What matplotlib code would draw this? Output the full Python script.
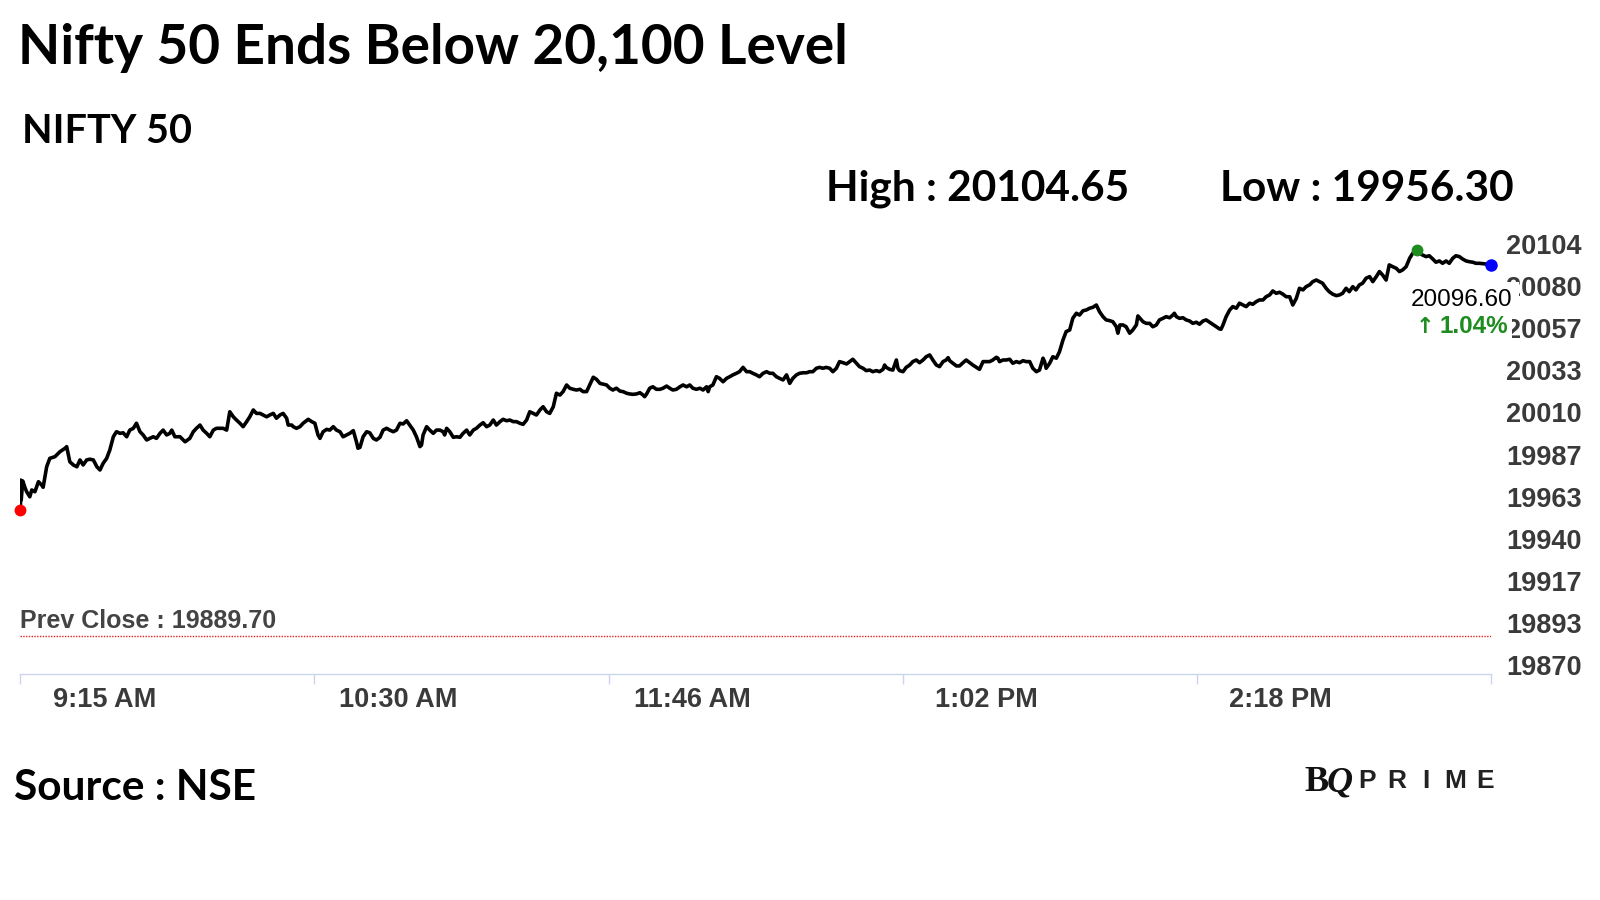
import matplotlib.pyplot as plt
import numpy as np
from matplotlib.transforms import ScaledTranslation

# Intraday Nifty 50 values (minutes after 9:15 AM)
minutes1 = [0.0, 0.1, 0.2, 0.6, 1.2, 1.6, 2.4, 2.9, 3.7, 4.6,
            5.4, 5.8, 6.7, 7.5, 8.8, 10.1, 11.4, 11.8, 12.6, 13.5,
            14.4, 15.2, 16.0, 16.9, 17.7, 18.6, 19.5, 20.3, 21.1, 22.0,
            22.8, 23.7, 24.5, 25.4, 26.2, 27.1, 27.9, 28.8, 29.6, 30.5,
            31.3, 32.2, 33.0, 33.9, 34.7, 35.6, 36.4, 37.3, 38.1, 38.6,
            39.4, 40.7, 42.0, 43.2, 44.1, 44.9, 45.8, 46.6, 47.5, 48.3,
            49.2, 50.0, 50.9, 51.7, 52.6, 53.4, 54.3, 55.1, 56.0, 56.8,
            57.7, 58.5, 59.4, 60.2, 61.1, 61.9, 62.8, 63.6, 64.5, 65.3,
            66.2, 67.0, 67.9, 68.3, 69.2]
values1 = [19960.0, 19976.7, 19965.6, 19976.2, 19972.3, 19970.2, 19967.4, 19971.2, 19970.2, 19975.8,
           19974.0, 19972.7, 19984.1, 19988.8, 19989.7, 19992.5, 19994.4, 19995.3, 19986.9, 19985.1,
           19984.1, 19987.9, 19985.1, 19987.9, 19988.3, 19987.9, 19984.1, 19982.3, 19986.0, 19988.8,
           19993.4, 20000.8, 20003.6, 20002.7, 20003.0, 20000.8, 20004.5, 20005.5, 20008.3, 20003.6,
           20001.8, 19999.0, 19999.9, 20000.8, 19999.9, 20002.7, 20004.5, 20001.8, 20002.7, 20004.5,
           20000.8, 20000.8, 19998.0, 19999.9, 20003.6, 20005.5, 20007.3, 20004.5, 20002.7, 20000.8,
           20004.5, 20005.5, 20005.5, 20005.5, 20004.5, 20014.7, 20011.9, 20010.1, 20008.3, 20006.4,
           20009.2, 20011.9, 20015.7, 20013.8, 20013.8, 20012.9, 20011.9, 20012.9, 20013.8, 20011.1,
           20012.9, 20013.8, 20011.1, 20007.3, 20007.3]

minutes2 = [69.6, 70.4, 71.3, 72.1, 73.4, 74.3, 75.1, 75.9, 76.4, 77.2,
            78.1, 78.9, 79.8, 80.6, 81.5, 82.3, 83.2, 84.0, 84.9, 85.7,
            86.1, 86.6, 87.4, 88.3, 89.1, 90.0, 90.8, 91.7, 92.5, 93.4,
            94.2, 95.1, 95.9, 96.8, 97.6, 98.5, 99.3, 100.2, 101.0, 101.9,
            102.3, 102.7, 103.6, 104.4, 105.3, 106.1, 107.0, 107.8, 108.2, 108.7,
            109.5, 110.4, 111.2, 112.1, 112.9, 113.8, 114.6, 115.5, 116.3, 117.2,
            118.0, 118.9, 119.7, 120.6, 121.4, 122.3, 123.1, 124.0, 124.8, 125.7,
            126.5, 127.4, 128.2, 129.1, 129.9, 130.8, 131.6, 132.5, 133.3, 134.2,
            135.0, 135.9, 136.7, 137.6, 138.4, 139.3, 140.1, 141.0, 141.8]
values2 = [20006.4, 20005.5, 20006.4, 20008.3, 20010.5, 20009.2, 20008.3, 20001.8, 19999.9, 20003.6,
           20004.9, 20004.5, 20006.4, 20004.5, 20003.6, 20000.8, 20001.8, 20002.7, 20004.2, 19998.0,
           19994.4, 19994.9, 20000.8, 20003.6, 20003.0, 19999.9, 19999.0, 20000.5, 20004.5, 20005.5,
           20004.5, 20003.6, 20004.5, 20008.3, 20007.9, 20009.7, 20007.3, 20004.5, 20000.8, 19995.3,
           19996.2, 20001.8, 20006.4, 20004.5, 20002.7, 20004.5, 20004.5, 20003.6, 20001.8, 20005.5,
           20003.6, 20000.5, 20000.8, 20000.5, 20002.7, 20004.5, 20001.8, 20004.5, 20005.5, 20007.3,
           20008.6, 20006.4, 20007.3, 20010.1, 20007.3, 20009.2, 20010.5, 20009.7, 20010.1, 20009.2,
           20009.2, 20008.3, 20007.7, 20010.1, 20014.7, 20013.8, 20012.9, 20015.7, 20017.5, 20014.7,
           20013.8, 20017.5, 20025.0, 20024.0, 20025.9, 20029.6, 20027.8, 20027.2, 20026.8]

minutes3 = [142.7, 143.5, 144.4, 145.2, 146.1, 146.9, 147.8, 148.6, 149.5, 150.3,
            151.1, 152.0, 152.9, 153.7, 154.6, 155.4, 156.2, 157.1, 158.0, 158.8,
            159.2, 159.7, 160.5, 161.3, 162.2, 163.1, 163.9, 164.8, 165.6, 166.4,
            167.3, 168.2, 169.0, 169.9, 170.7, 171.5, 172.4, 173.3, 174.1, 175.0,
            175.4, 175.8, 176.6, 177.5, 178.3, 179.2, 180.1, 180.9, 181.7, 182.6,
            183.4, 184.3, 185.2, 186.0, 186.8, 187.7, 188.5, 189.4, 190.3, 191.1,
            191.9, 192.8, 193.6, 194.5, 195.4, 196.2, 197.0, 197.9, 198.7, 199.6,
            200.5, 201.3, 202.1, 203.0, 203.8, 204.7, 205.5, 206.4, 207.2, 208.1,
            208.9, 209.8, 210.7, 211.5, 212.3, 213.2, 214.0, 214.9, 215.7]
values3 = [20027.2, 20025.9, 20025.9, 20029.6, 20033.9, 20032.8, 20030.5, 20030.1, 20029.6, 20027.8,
           20026.8, 20027.8, 20026.2, 20025.9, 20025.0, 20024.6, 20024.4, 20024.6, 20025.3, 20024.0,
           20023.1, 20024.6, 20027.8, 20028.6, 20027.2, 20027.2, 20027.8, 20029.0, 20027.8, 20026.8,
           20027.2, 20028.6, 20029.6, 20028.6, 20029.6, 20027.8, 20027.2, 20027.8, 20026.8, 20028.6,
           20025.9, 20028.6, 20029.6, 20034.2, 20033.3, 20031.4, 20033.3, 20034.2, 20035.2, 20036.1,
           20037.0, 20039.4, 20037.0, 20037.0, 20036.1, 20035.2, 20034.2, 20036.1, 20037.0, 20036.1,
           20036.1, 20034.2, 20033.3, 20032.4, 20035.2, 20030.5, 20033.3, 20035.2, 20036.1, 20036.4,
           20036.4, 20037.0, 20037.0, 20038.9, 20039.4, 20038.9, 20039.4, 20038.9, 20037.0, 20038.9,
           20042.6, 20042.0, 20041.3, 20042.6, 20043.9, 20041.7, 20039.8, 20038.9, 20037.6]

minutes4 = [216.6, 217.4, 218.3, 219.1, 220.0, 220.4, 220.8, 221.7, 222.5, 223.4,
            223.8, 224.2, 225.1, 225.9, 226.8, 227.6, 228.5, 229.3, 230.2, 231.0,
            231.9, 232.7, 233.6, 234.4, 235.3, 236.1, 236.6, 237.0, 237.8, 238.7,
            239.5, 240.4, 241.2, 242.1, 242.9, 243.8, 244.6, 245.5, 246.3, 247.2,
            248.0, 248.9, 249.3, 249.7, 250.6, 251.4, 252.3, 253.1, 254.0, 254.8,
            255.7, 256.5, 257.4, 258.2, 259.1, 259.9, 260.8, 261.2, 261.6, 262.5,
            263.3, 264.2, 265.0, 265.9, 266.7, 267.6, 268.4, 269.3, 270.1, 271.0,
            271.8, 272.7, 273.5, 274.4, 275.2, 276.1, 276.9, 277.8, 278.6, 279.5,
            279.9, 280.4, 281.2, 282.0, 282.9, 283.7, 284.6, 285.0, 285.9, 286.3,
            287.1, 288.0, 288.8, 289.7]
values4 = [20037.9, 20037.0, 20037.6, 20037.0, 20038.3, 20040.7, 20039.4, 20038.3, 20037.9, 20043.5,
           20038.9, 20037.6, 20037.0, 20039.4, 20040.7, 20042.6, 20043.5, 20042.0, 20043.5, 20045.3,
           20046.3, 20043.5, 20040.7, 20039.8, 20042.6, 20043.5, 20044.8, 20043.1, 20041.7, 20040.2,
           20040.2, 20042.0, 20043.5, 20042.0, 20040.7, 20039.4, 20038.3, 20042.6, 20042.6, 20042.6,
           20043.5, 20045.0, 20044.5, 20042.6, 20043.5, 20043.5, 20043.9, 20041.7, 20042.6, 20042.0,
           20043.1, 20042.6, 20042.6, 20038.9, 20037.0, 20037.9, 20044.5, 20042.6, 20038.9, 20041.7,
           20045.3, 20044.5, 20048.1, 20054.7, 20059.3, 20060.2, 20066.7, 20069.5, 20068.5, 20070.9,
           20071.3, 20072.3, 20072.8, 20074.1, 20070.4, 20067.6, 20065.8, 20065.4, 20064.8, 20062.0,
           20058.4, 20063.0, 20063.0, 20062.0, 20058.4, 20060.2, 20063.0, 20068.0, 20065.8, 20064.8,
           20063.9, 20063.9, 20062.0, 20063.0]

minutes5 = [290.5, 291.4, 292.2, 293.1, 293.9, 294.3, 294.8, 295.6, 296.5, 297.3,
            298.2, 299.0, 299.9, 300.7, 301.6, 302.4, 303.3, 304.1, 305.0, 305.8,
            306.2, 306.7, 307.5, 308.4, 309.2, 310.1, 310.9, 311.8, 312.6, 313.5,
            314.3, 315.2, 316.0, 316.9, 317.7, 318.6, 319.4, 320.3, 321.1, 322.0,
            322.8, 323.7, 324.5, 325.4, 326.2, 327.1, 327.9, 328.8, 329.6, 330.5,
            331.3, 332.1, 333.0, 333.8, 334.7, 335.6, 336.4, 337.2, 338.1, 338.9,
            339.8, 340.6, 341.5, 342.3, 343.2, 344.1, 344.9, 345.8, 346.6, 347.4,
            348.3, 349.1, 350.0, 350.9, 351.7, 352.5, 353.4, 354.3, 355.1, 356.1,
            356.8, 357.6, 358.5, 359.3, 360.2, 361.0, 361.9, 362.7, 363.6, 364.4,
            365.3, 366.1, 367.0, 367.8, 368.7, 369.5, 370.4, 371.2, 372.1, 375.0]
values5 = [20065.8, 20066.7, 20067.6, 20067.0, 20068.5, 20069.5, 20067.6, 20066.7, 20067.0, 20065.8,
           20065.2, 20063.9, 20064.5, 20063.4, 20065.2, 20065.8, 20064.5, 20063.4, 20062.0, 20060.8,
           20060.6, 20063.0, 20067.6, 20071.3, 20073.2, 20072.3, 20075.1, 20074.1, 20073.2, 20075.1,
           20074.5, 20076.0, 20076.9, 20076.9, 20078.7, 20079.7, 20081.9, 20080.6, 20081.2, 20080.1,
           20078.7, 20078.7, 20074.1, 20077.8, 20083.4, 20082.5, 20084.3, 20085.3, 20087.1, 20088.0,
           20087.1, 20086.2, 20083.4, 20081.5, 20080.1, 20079.3, 20079.7, 20080.6, 20083.4, 20081.5,
           20084.3, 20082.5, 20085.3, 20086.2, 20089.0, 20089.9, 20087.1, 20089.9, 20092.7, 20090.8,
           20088.0, 20096.4, 20095.4, 20094.5, 20092.7, 20093.6, 20095.4, 20100.1, 20102.9, 20104.65,
           20102.9, 20101.9, 20101.0, 20101.5, 20099.7, 20097.9, 20098.6, 20097.3, 20098.6, 20097.3,
           20100.1, 20101.5, 20101.0, 20099.7, 20098.6, 20098.2, 20097.9, 20097.3, 20097.3, 20096.6]

high_value = 20104.65
low_value = 19956.30
prev_close = 19889.70
last_value = 20096.60
change_pct = 1.04

x_ticks = [0, 75, 150, 225, 300, 375]
x_labels = ['9:15 AM', '10:30 AM', '11:46 AM', '1:02 PM', '2:18 PM']
y_labels = ['19870', '19893', '19917', '19940', '19963', '19987',
            '20010', '20033', '20057', '20080', '20104']

t = np.array(minutes1 + minutes2 + minutes3 + minutes4 + minutes5)
v = np.array(values1 + values2 + values3 + values4 + values5)

fig = plt.figure(figsize=(16, 9), dpi=100)
fig.patch.set_facecolor('white')
ax = fig.add_axes([0.01275, 0.2511, 0.919, 0.4911])

ax.plot(t, v, color='black', lw=2.6, solid_joinstyle='round', zorder=3)
ax.axhline(prev_close, color='#e02020', lw=1, ls=(0, (1, 1)), zorder=2)

i_lo = np.argmin(v)
i_hi = np.argmax(v)
ax.plot(t[i_lo], v[i_lo], 'o', color='#ff0000', ms=7.5, clip_on=False, zorder=4)
ax.plot(t[i_hi], v[i_hi], 'o', color='#1e8c1e', ms=7.5, clip_on=False, zorder=4)
ax.plot(t[-1], v[-1], 'o', color='#0000ff', ms=8, clip_on=False, zorder=4)

ax.set_xlim(0, 375)
ax.set_ylim(19868.8, 20114.7)

# x axis: tick marks at major, labels on minor ticks shifted right
ax.set_xticks(x_ticks)
ax.set_xticklabels([])
ax.set_xticks([x + 21.4 for x in x_ticks[:-1]], minor=True)
ax.set_xticklabels(x_labels, minor=True)
ax.tick_params(axis='x', which='major', length=7, width=1, color='#ccd6eb', direction='out')
ax.tick_params(axis='x', which='minor', length=0, pad=9, labelsize=19.5, labelcolor='#3a3a3a')
for lbl in ax.get_xticklabels(minor=True):
    lbl.set_fontweight('bold')
    lbl.set_family('Liberation Sans')

# y axis on the right
yt = np.linspace(19870, 20104, 11)
ax.yaxis.tick_right()
ax.set_yticks(yt)
ax.set_yticklabels(y_labels)
ax.tick_params(axis='y', length=0, pad=11, labelsize=19.5, labelcolor='#3a3a3a')
shift = ScaledTranslation(0, 7 / 100, fig.dpi_scale_trans)
for lbl in ax.get_yticklabels():
    lbl.set_fontweight('bold')
    lbl.set_family('Liberation Sans')
    lbl.set_transform(lbl.get_transform() + shift)

for s in ['top', 'left', 'right']:
    ax.spines[s].set_visible(False)
ax.spines['bottom'].set_color('#ccd6eb')
ax.spines['bottom'].set_linewidth(1)

# last value annotation
ax.annotate(f'{last_value:.2f}', xy=(t[-1], v[-1]), xytext=(-80, -41),
            textcoords='offset pixels', ha='left', va='baseline',
            fontsize=17.5, family='Liberation Sans', color='black', zorder=10,
            bbox=dict(boxstyle='square,pad=0.25', fc='white', ec='none'),
            annotation_clip=False)
ax.annotate('↑', xy=(t[-1], v[-1]), xytext=(-75, -68),
            textcoords='offset pixels', ha='left', va='baseline',
            fontsize=16, fontweight='bold', family='DejaVu Sans',
            color='#1e8c1e', zorder=10, annotation_clip=False)
ax.annotate(f'{change_pct:.2f}%', xy=(t[-1], v[-1]), xytext=(-51, -68),
            textcoords='offset pixels', ha='left', va='baseline',
            fontsize=17.5, fontweight='bold', family='Liberation Sans',
            color='#1e8c1e', zorder=10,
            bbox=dict(boxstyle='square,pad=0.15', fc='white', ec='none'),
            annotation_clip=False)

fig.text(0.0125, 0.3017, f'Prev Close : {prev_close:.2f}', fontsize=18, fontweight='bold',
         family='Liberation Sans', color='#444444', va='baseline')

# titles and header stats
fig.text(0.011, 0.9286, 'Nifty 50 Ends Below 20,100 Level', fontsize=39.5, fontweight='bold',
         family='Lato', color='black', va='baseline')
fig.text(0.014, 0.8412, 'NIFTY 50', fontsize=28.5, fontweight='bold',
         family='Lato', color='black', va='baseline')
fig.text(0.516, 0.7767, f'High : {high_value:.2f}', fontsize=30.5, fontweight='bold',
         family='Lato', color='black', va='baseline')
fig.text(0.7625, 0.7767, f'Low : {low_value:.2f}', fontsize=30.5, fontweight='bold',
         family='Lato', color='black', va='baseline')
fig.text(0.0088, 0.111, 'Source : NSE', fontsize=30.5, fontweight='bold',
         family='Lato', color='black', va='baseline')

# BQ Prime logo
fig.text(1304 / 1600, 0.121, 'B', fontsize=26, fontweight='bold', family='Liberation Serif',
         color='#111111', va='baseline')
fig.text(1327 / 1600, 0.121, 'Q', fontsize=26, fontweight='bold', style='italic',
         family='Liberation Serif', color='#111111', va='baseline')
for k, ch in enumerate('PRIME'):
    fig.text((1367 + k * 29.5) / 1600, 0.1244, ch, fontsize=19, fontweight='bold',
             family='Liberation Sans', color='#222222', ha='center', va='baseline')

fig.savefig('out.png', dpi=100, facecolor='white')
